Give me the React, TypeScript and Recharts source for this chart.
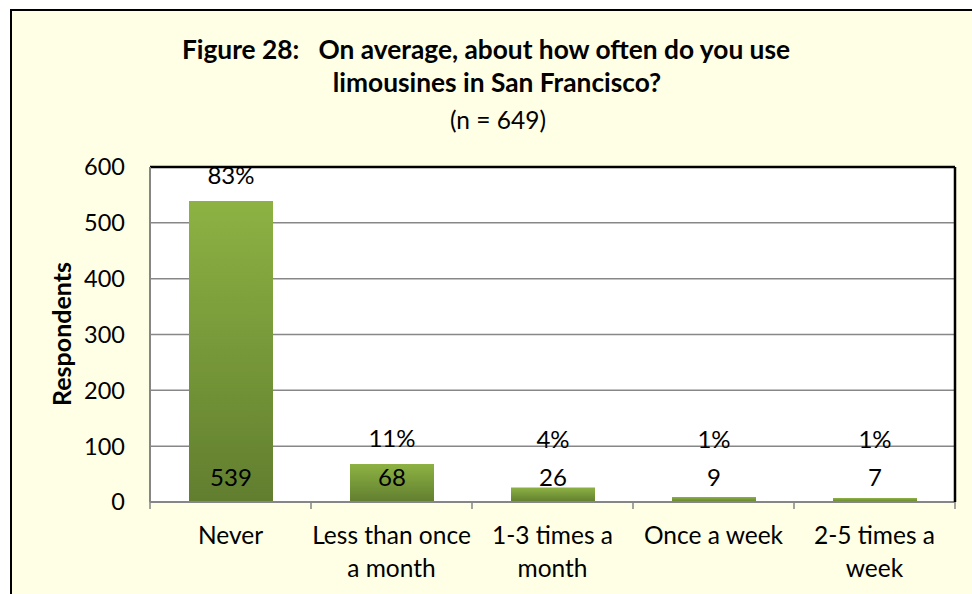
import React from "react";
import {
  BarChart,
  Bar,
  XAxis,
  YAxis,
  CartesianGrid,
  LabelList,
  ReferenceLine,
} from "recharts";

const categories = [
  "Never",
  "Less than once a month",
  "1-3 times a month",
  "Once a week",
  "2-5 times a week",
];
const tickLines = [
  ["Never"],
  ["Less than once", "a month"],
  ["1-3 times a", "month"],
  ["Once a week"],
  ["2-5 times a", "week"],
];
const respondents = [539, 68, 26, 9, 7];
const shares = ["83%", "11%", "4%", "1%", "1%"];
const yTicks = [0, 100, 200, 300, 400, 500, 600];

const data = categories.map((name, i) => ({
  name,
  count: respondents[i],
  pct: shares[i],
}));

const FONT = "Lato, 'Open Sans', sans-serif";
const AXIS_GRAY = "#868686";

const CategoryTick = (props: any) => {
  const { x, y, payload, index } = props;
  const idx = typeof index === "number" ? index : categories.indexOf(payload.value);
  const half = payload && payload.offset > 20 ? payload.offset : 80.5;
  const lines = tickLines[idx] || [String(payload.value)];
  return (
    <g>
      <line x1={x - half} y1={y} x2={x - half} y2={y + 7} stroke={AXIS_GRAY} strokeWidth={1.5} />
      {idx === categories.length - 1 && (
        <line x1={x + half} y1={y} x2={x + half} y2={y + 7} stroke={AXIS_GRAY} strokeWidth={1.5} />
      )}
      {lines.map((t, i) => (
        <text
          key={i}
          x={x}
          y={y + 42 + i * 33}
          textAnchor="middle"
          fontSize={24.5}
          fontFamily={FONT}
          fill="#000"
        >
          {t}
        </text>
      ))}
    </g>
  );
};

const CountLabel = (p: any) => {
  const x = Number(p.x);
  const w = Number(p.width);
  const bottom = Number(p.y) + Number(p.height);
  return (
    <text
      x={x + w / 2}
      y={bottom - 26}
      textAnchor="middle"
      dominantBaseline="central"
      fontSize={24}
      fontFamily={FONT}
      fill="#000"
    >
      {p.value}
    </text>
  );
};

const PctLabel = (p: any) => {
  const x = Number(p.x);
  const w = Number(p.width);
  const top = Number(p.y);
  const bottom = top + Number(p.height);
  const cy = Math.min(top - 27, bottom - 64);
  return (
    <text
      x={x + w / 2}
      y={cy}
      textAnchor="middle"
      dominantBaseline="central"
      fontSize={24}
      fontFamily={FONT}
      fill="#000"
    >
      {p.value}
    </text>
  );
};

export default function App() {
  return (
    <div
      style={{
        position: "absolute",
        left: 0,
        top: 0,
        width: 972,
        height: 594,
        overflow: "hidden",
        background: "#fff",
        fontFamily: FONT,
      }}
    >
      <div
        style={{
          position: "absolute",
          left: 10,
          top: 9,
          width: 1000,
          height: 620,
          border: "2px solid #000",
          background: "#FFFFE5",
        }}
      />
      <div style={{ position: "absolute", left: 0, top: 0 }}>
        <BarChart
          width={972}
          height={594}
          data={data}
          margin={{ top: 167, right: 16, bottom: 0, left: 0 }}
        >
          <defs>
            <linearGradient id="barGreen" x1="0" y1="0" x2="0" y2="1">
              <stop offset="0%" stopColor="#8DB243" />
              <stop offset="100%" stopColor="#617E2F" />
            </linearGradient>
          </defs>
          <CartesianGrid
            vertical={false}
            stroke="#878787"
            strokeWidth={1.5}
            fill="#ffffff"
            fillOpacity={1}
          />
          <XAxis
            dataKey="name"
            height={92}
            interval={0}
            axisLine={{ stroke: AXIS_GRAY, strokeWidth: 2 }}
            tickLine={false}
            tickSize={0}
            tickMargin={0}
            tick={<CategoryTick />}
          />
          <YAxis
            width={150}
            domain={[0, 600]}
            ticks={yTicks}
            interval={0}
            axisLine={{ stroke: AXIS_GRAY, strokeWidth: 2 }}
            tickLine={false}
            tickSize={6}
            tickMargin={19}
            tick={{ fontSize: 23.5, fontFamily: FONT, fill: "#000" }}
          />
          <YAxis
            yAxisId="right"
            orientation="right"
            width={1}
            domain={[0, 600]}
            tick={false}
            tickLine={false}
            axisLine={{ stroke: "#000", strokeWidth: 2.5 }}
          />
          <ReferenceLine y={600} stroke="#000" strokeWidth={2.5} />
          <Bar dataKey="count" fill="url(#barGreen)" barSize={84} isAnimationActive={false}>
            <LabelList dataKey="count" content={<CountLabel />} />
            <LabelList dataKey="pct" content={<PctLabel />} />
          </Bar>
        </BarChart>
      </div>
      <svg
        width={972}
        height={594}
        style={{ position: "absolute", left: 0, top: 0, pointerEvents: "none" }}
      >
        <text x={486} y={59} textAnchor="middle" fontSize={26.3} fontWeight="bold" fontFamily={FONT} fill="#000" style={{ whiteSpace: "pre" }}>
          {"Figure 28:   On average, about how often do you use"}
        </text>
        <text x={497} y={92} textAnchor="middle" fontSize={26.3} fontWeight="bold" fontFamily={FONT} fill="#000">
          limousines in San Francisco?
        </text>
        <text x={498} y={129} textAnchor="middle" fontSize={24.5} fontFamily={FONT} fill="#000">
          (n = 649)
        </text>
        <text
          x={0}
          y={0}
          transform="translate(71,334) rotate(-90)"
          textAnchor="middle"
          fontSize={25}
          fontWeight="bold"
          fontFamily={FONT}
          fill="#000"
        >
          Respondents
        </text>
      </svg>
    </div>
  );
}
